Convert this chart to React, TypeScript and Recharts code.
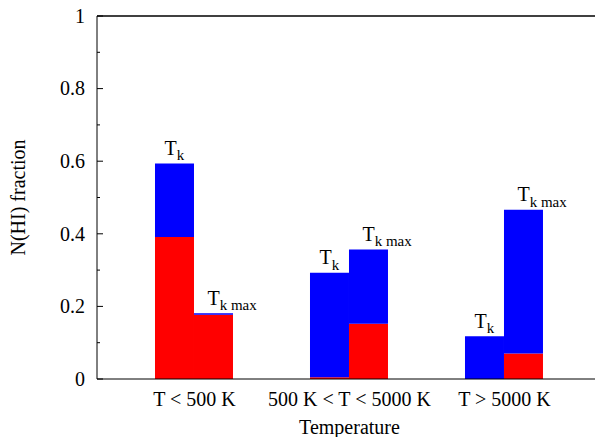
import React from "react";
import { BarChart, Bar, XAxis, YAxis, LabelList, ReferenceLine } from "recharts";

const categories = ["T < 500 K", "500 K < T < 5000 K", "T > 5000 K"];
const tkRed = [0.391, 0.005, 0];
const tkBlue = [0.203, 0.288, 0.118];
const tkmaxRed = [0.177, 0.152, 0.07];
const tkmaxBlue = [0.004, 0.205, 0.396];
const yTicks = [0, 0.1, 0.2, 0.3, 0.4, 0.5, 0.6, 0.7, 0.8, 0.9, 1];
const yTickLabels: Record<string, string> = { "0": "0", "0.2": "0.2", "0.4": "0.4", "0.6": "0.6", "0.8": "0.8", "1": "1" };
const xTicks = categories.map((_, i) => i);

const data = categories.map((name, i) => ({
  idx: i,
  name,
  tkRed: tkRed[i],
  tkBlue: tkBlue[i],
  tkmaxRed: tkmaxRed[i],
  tkmaxBlue: tkmaxBlue[i],
}));

const FONT = "'Liberation Serif', 'Times New Roman', serif";

const YTick = (props: any) => {
  const { x, y, payload } = props;
  const key = String(payload.value);
  const label = yTickLabels[key];
  const major = label !== undefined;
  return (
    <g>
      <line x1={x} x2={x + (major ? 6 : 3)} y1={y} y2={y} stroke="#000" strokeWidth={1} />
      {major && (
        <text x={x - 12} y={y + 6.8} textAnchor="end" fontFamily={FONT} fontSize={20} fill="#000">
          {label}
        </text>
      )}
    </g>
  );
};

const XTick = (props: any) => {
  const { x, y, payload } = props;
  return (
    <text x={x} y={y + 27} textAnchor="middle" fontFamily={FONT} fontSize={20} fill="#000">
      {categories[payload.value]}
    </text>
  );
};

const makeLabel = (sub: string, dx: number) => (props: any) => {
  const { x, y, width } = props;
  const cx = Number(x) + Number(width) / 2;
  return (
    <text x={cx + dx} y={Number(y) - 8.5} textAnchor="start" fontFamily={FONT} fontSize={20} fill="#000">
      T
      <tspan fontSize={15} dy={5.5}>{sub}</tspan>
    </text>
  );
};

export default function App() {
  return (
    <div style={{ position: "fixed", left: 0, top: 0, width: 595, height: 437, overflow: "hidden", background: "#fff" }}>
      <style>{"html,body{overflow:hidden;margin:0;scrollbar-width:none;}::-webkit-scrollbar{display:none;width:0;height:0;}"}</style>
      <BarChart
        width={595}
        height={437}
        data={data}
        margin={{ top: 16, right: 0, bottom: 0, left: 0 }}
        barGap={0}
        barSize={39}
      >
        <XAxis
          dataKey="idx"
          type="number"
          domain={[-0.629, 2.584]}
          allowDataOverflow
          ticks={xTicks}
          height={58}
          axisLine={{ stroke: "#000", strokeWidth: 1 }}
          tickLine={false}
          tickSize={0}
          tickMargin={0}
          tick={<XTick />}
          interval={0}
          label={{
            content: () => (
              <text x={349.5} y={434} textAnchor="middle" fontFamily={FONT} fontSize={20} fill="#000">
                Temperature
              </text>
            ),
          }}
        />
        <YAxis
          type="number"
          domain={[0, 1]}
          ticks={yTicks}
          width={97}
          axisLine={{ stroke: "#000", strokeWidth: 1 }}
          tickLine={false}
          tickSize={0}
          tickMargin={0}
          tick={<YTick />}
          interval={0}
          label={{
            content: () => (
              <text
                x={25}
                y={197.5}
                textAnchor="middle"
                transform="rotate(-90 25 197.5)"
                fontFamily={FONT}
                fontSize={20}
                fill="#000"
              >
                N(HI) fraction
              </text>
            ),
          }}
        />
        <ReferenceLine y={1} stroke="#000" strokeWidth={1.5} />
        <Bar dataKey="tkRed" stackId="tk" fill="#ff0000" isAnimationActive={false} />
        <Bar dataKey="tkBlue" stackId="tk" fill="#0000ff" isAnimationActive={false}>
          <LabelList dataKey="tkBlue" content={makeLabel("k", -10)} />
        </Bar>
        <Bar dataKey="tkmaxRed" stackId="tkmax" fill="#ff0000" isAnimationActive={false} />
        <Bar dataKey="tkmaxBlue" stackId="tkmax" fill="#0000ff" isAnimationActive={false}>
          <LabelList dataKey="tkmaxBlue" content={makeLabel("k max", -6)} />
        </Bar>
      </BarChart>
    </div>
  );
}
